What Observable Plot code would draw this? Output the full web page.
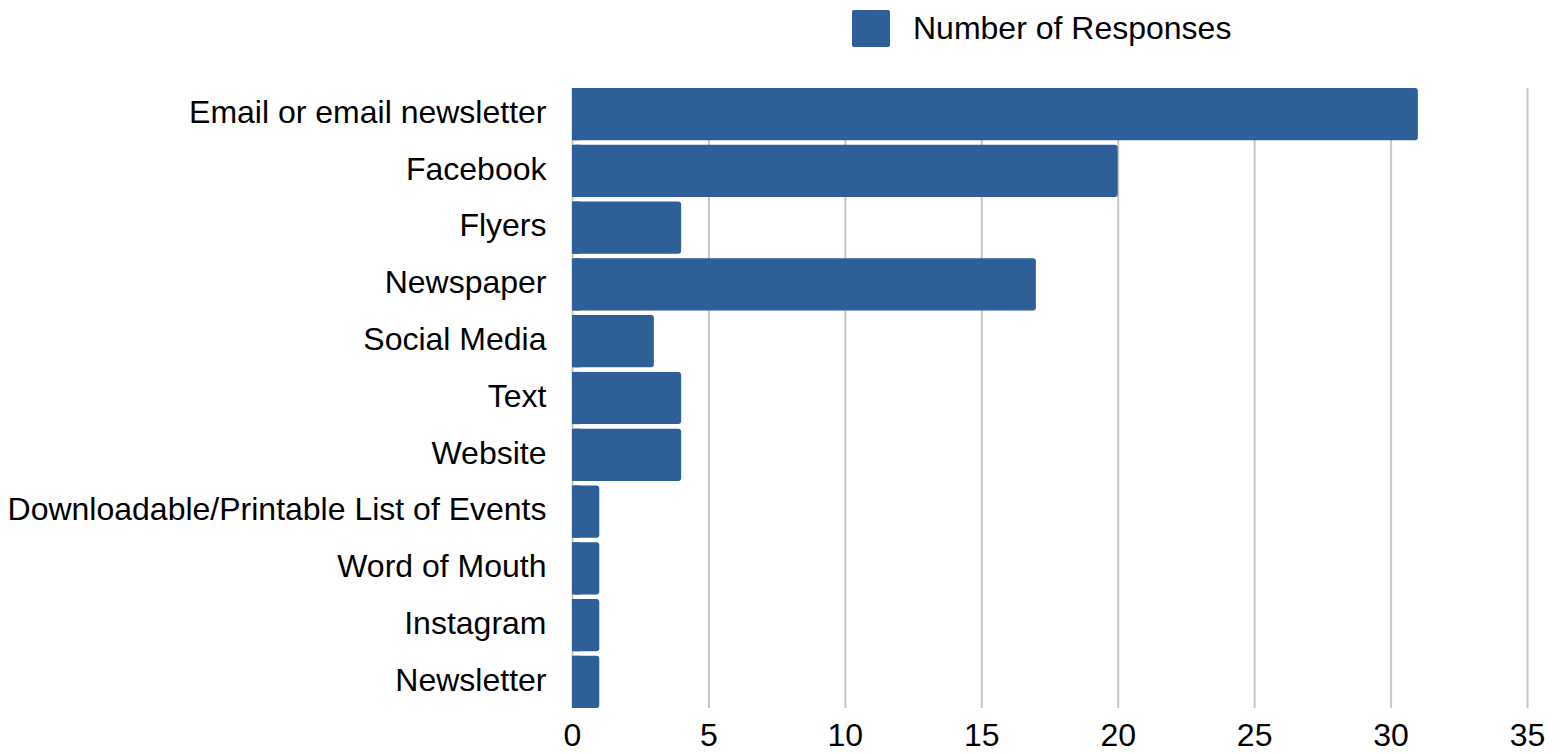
<!DOCTYPE html>
<html>
<head>
<meta charset="utf-8">
<script src="https://cdn.jsdelivr.net/npm/d3@7"></script>
<script src="https://cdn.jsdelivr.net/npm/@observablehq/plot@0.6"></script>
<style>
  html, body { margin: 0; padding: 0; background: #fff; }
  body { font-family: "Liberation Sans", Arial, sans-serif; width: 1563px; }
  #legend { position: relative; height: 60px; }
  #legend .sw { position: absolute; left: 852px; top: 10px; width: 38px; height: 37px; background: #2e5f98; border-radius: 2px; }
  #legend .lab { position: absolute; left: 913px; top: 8px; font-size: 32px; line-height: 40px; color: #000; white-space: nowrap; }
</style>
</head>
<body>
<div id="legend"><div class="sw"></div><div class="lab">Number of Responses</div></div>
<div id="chart"></div>
<script>
const categories = [
  "Email or email newsletter",
  "Facebook",
  "Flyers",
  "Newspaper",
  "Social Media",
  "Text",
  "Website",
  "Downloadable/Printable List of Events",
  "Word of Mouth",
  "Instagram",
  "Newsletter"
];
const responses = [31, 20, 4, 17, 3, 4, 4, 1, 1, 1, 1];
const xTicks = [0, 5, 10, 15, 20, 25, 30, 35];

const data = categories.map((c, i) => ({category: c, value: responses[i]}));
const barColor = "#2e5f98";

const chart = Plot.plot({
  width: 1563,
  height: 694,
  marginTop: 28,
  marginBottom: 46,
  marginLeft: 572,
  marginRight: 36,
  style: {fontFamily: "'Liberation Sans', Arial, sans-serif", fontSize: "32px", color: "#000", background: "#fff"},
  x: {domain: [0, 35], ticks: xTicks, label: null},
  y: {domain: categories, paddingInner: 0.08, paddingOuter: 0, round: false, label: null},
  marks: [
    Plot.gridX(xTicks, {stroke: "#c6c6c6", strokeOpacity: 1, strokeWidth: 2}),
    Plot.barX(data, {x: "value", y: "category", fill: barColor, rx: 3}),
    Plot.barX(data, {x1: 0, x2: d => Math.min(d.value, 0.3), y: "category", fill: barColor}),
    Plot.axisX(xTicks, {tickSize: 0, tickPadding: 15, fontSize: 32, fill: "#000"}),
    Plot.axisY(categories, {tickSize: 0, tickPadding: 26, fontSize: 32, fill: "#000", dy: -2})
  ]
});
document.getElementById("chart").appendChild(chart);
</script>
</body>
</html>
